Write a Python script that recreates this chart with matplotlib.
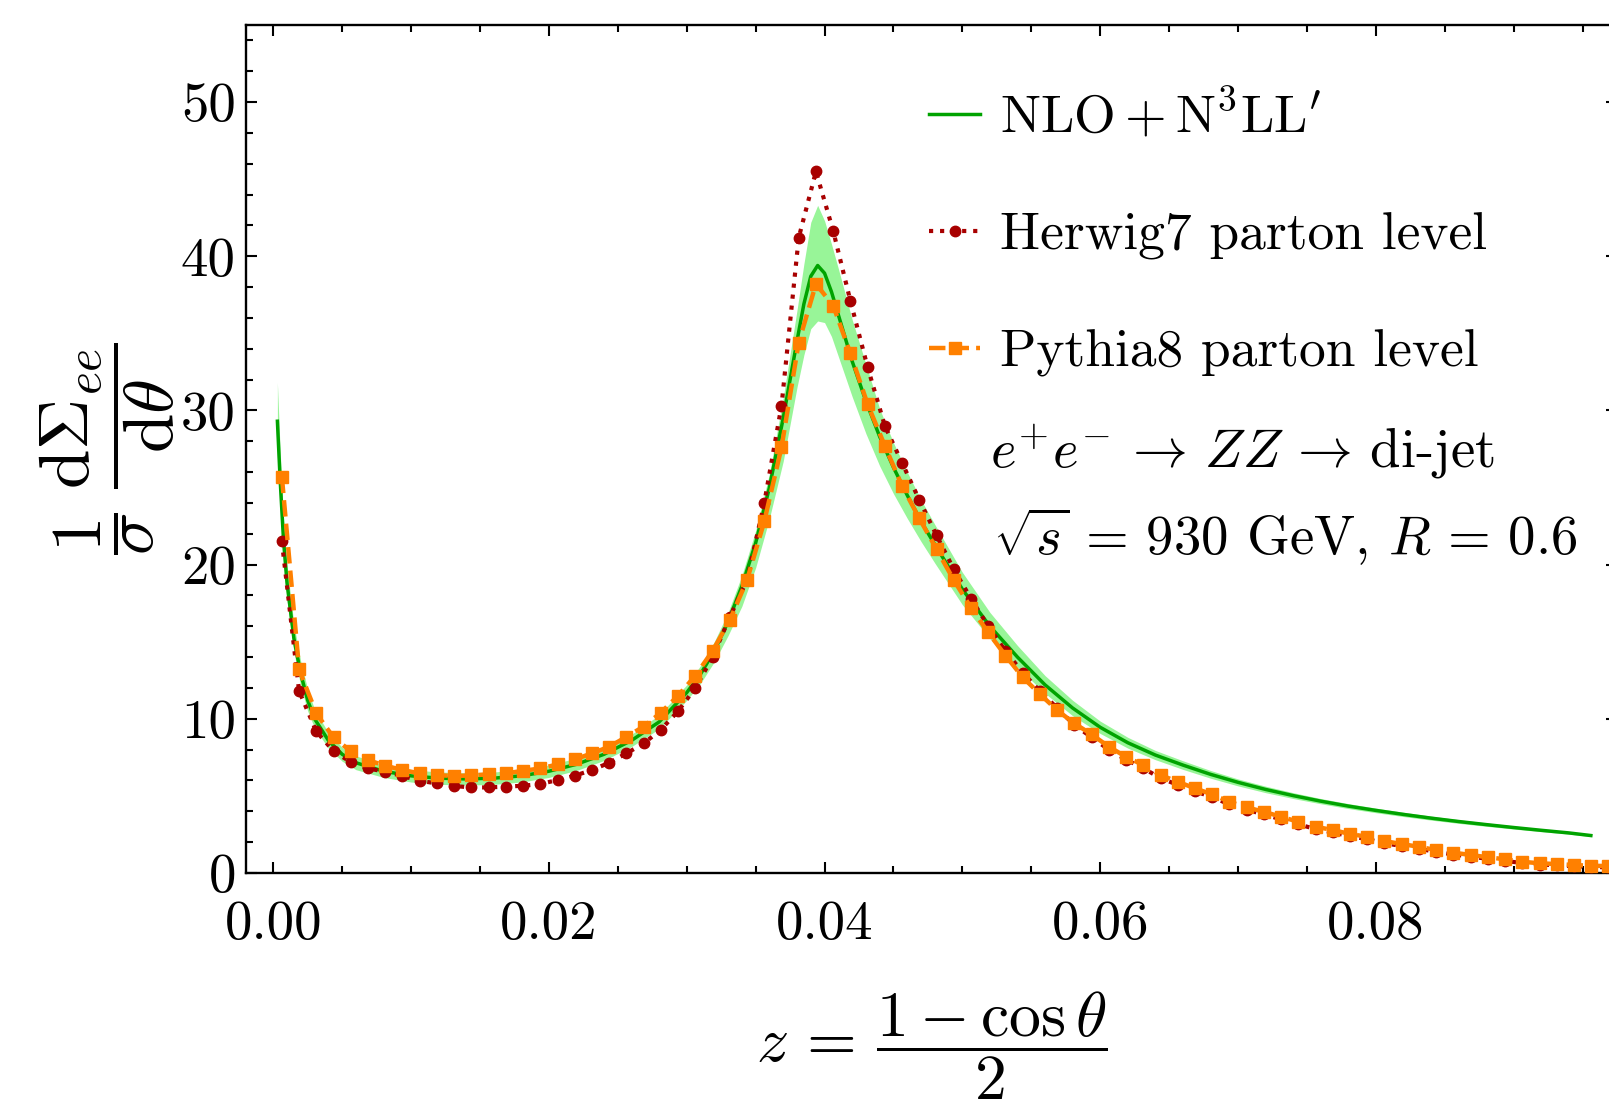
import numpy as np
import matplotlib
matplotlib.use("Agg")
import matplotlib.pyplot as plt
from matplotlib.ticker import MultipleLocator

plt.rcParams['font.family'] = 'serif'
plt.rcParams['font.serif'] = ['cmr10']
plt.rcParams['mathtext.fontset'] = 'cm'
plt.rcParams['axes.unicode_minus'] = False
plt.rcParams['axes.formatter.use_mathtext'] = True

# NLO + N3LL' resummed curve with its scale band
z_nlo = [0.0003, 0.0005, 0.00075, 0.001, 0.0015, 0.002, 0.0025, 0.003, 0.004, 0.005,
         0.006, 0.008, 0.010, 0.012, 0.014, 0.016, 0.018, 0.020, 0.022, 0.024,
         0.026, 0.028, 0.030, 0.031, 0.032, 0.033, 0.034, 0.035, 0.036, 0.037,
         0.038, 0.0385, 0.039, 0.0395, 0.040, 0.0405, 0.041, 0.042, 0.043, 0.044,
         0.045, 0.046, 0.047, 0.048, 0.050, 0.052, 0.054, 0.056, 0.058, 0.060,
         0.062, 0.064, 0.066, 0.068, 0.070, 0.072, 0.074, 0.076, 0.078, 0.080,
         0.082, 0.084, 0.086, 0.088, 0.090, 0.092, 0.094, 0.0956]
nlo = [29.3, 25.5, 21.5, 18.8, 15.2, 12.9, 11.2, 10.0, 8.6, 7.7,
       7.15, 6.6, 6.3, 6.15, 6.1, 6.15, 6.3, 6.6, 7.05, 7.7,
       8.6, 9.8, 11.7, 12.9, 14.4, 16.3, 18.6, 21.4, 25.0, 29.5,
       34.5, 36.9, 38.7, 39.4, 38.9, 37.7, 36.2, 33.2, 30.6, 28.3,
       26.3, 24.5, 22.8, 21.3, 18.4, 16.0, 14.0, 12.2, 10.7, 9.45,
       8.45, 7.65, 7.0, 6.4, 5.88, 5.42, 5.02, 4.66, 4.34, 4.06,
       3.8, 3.56, 3.34, 3.14, 2.95, 2.77, 2.6, 2.43]
nlo_lo = [27.0, 23.8, 20.2, 17.7, 14.3, 12.1, 10.5, 9.4, 8.1, 7.25,
          6.7, 6.2, 5.9, 5.75, 5.7, 5.75, 5.9, 6.2, 6.65, 7.3,
          8.2, 9.35, 11.2, 12.3, 13.7, 15.4, 17.3, 19.8, 23.0, 26.7,
          31.5, 33.6, 35.3, 35.8, 35.7, 34.8, 33.5, 30.9, 28.5, 26.4,
          24.6, 23.0, 21.5, 20.1, 17.4, 15.2, 13.35, 11.65, 10.2, 9.05,
          8.1, 7.35, 6.72, 6.15, 5.65, 5.21, 4.83, 4.49, 4.18, 3.91,
          3.66, 3.43, 3.22, 3.03, 2.85, 2.68, 2.52, 2.36]
nlo_hi = [31.8, 27.4, 22.9, 19.9, 16.1, 13.7, 11.9, 10.6, 9.1, 8.15,
          7.6, 7.0, 6.7, 6.55, 6.5, 6.55, 6.7, 7.0, 7.45, 8.1,
          9.0, 10.25, 12.2, 13.45, 15.0, 16.9, 19.3, 22.2, 25.9, 30.8,
          36.5, 39.5, 42.2, 43.3, 42.3, 40.8, 39.2, 35.9, 33.0, 30.1,
          27.9, 26.0, 24.2, 22.6, 19.5, 16.9, 14.75, 12.8, 11.2, 9.85,
          8.8, 7.95, 7.28, 6.65, 6.1, 5.63, 5.21, 4.83, 4.5, 4.21,
          3.94, 3.69, 3.46, 3.25, 3.05, 2.86, 2.68, 2.5]

# parton shower histograms, bins of width 0.00125
bin_width = 0.00125
herwig = [21.5, 11.8, 9.18, 7.9, 7.19, 6.78, 6.57, 6.29, 5.98, 5.81,
          5.64, 5.55, 5.55, 5.6, 5.66, 5.77, 6.03, 6.31, 6.68, 7.15,
          7.76, 8.4, 9.3, 10.5, 12.0, 14.0, 16.6, 19.0, 24.0, 30.3,
          41.2, 45.5, 41.65, 37.1, 32.8, 29.0, 26.6, 24.2, 21.9, 19.7,
          17.8, 16.0, 14.4, 13.0, 11.8, 10.7, 9.6, 8.8, 8.0, 7.35,
          6.8, 6.15, 5.72, 5.3, 4.92, 4.45, 4.1, 3.8, 3.48, 3.16,
          2.85, 2.63, 2.38, 2.2, 1.93, 1.75, 1.57, 1.37, 1.2, 1.06,
          0.92, 0.79, 0.64, 0.55, 0.5, 0.44, 0.39, 0.37]
pythia = [25.7, 13.2, 10.35, 8.79, 7.9, 7.32, 6.96, 6.68, 6.46, 6.35,
          6.29, 6.33, 6.4, 6.46, 6.63, 6.78, 7.04, 7.37, 7.76, 8.19,
          8.83, 9.5, 10.4, 11.5, 12.8, 14.4, 16.4, 19.0, 22.8, 27.6,
          34.4, 38.2, 36.8, 33.7, 30.4, 27.7, 25.1, 23.0, 21.0, 19.0,
          17.2, 15.6, 14.1, 12.7, 11.6, 10.56, 9.7, 8.99, 8.19, 7.54,
          7.0, 6.35, 5.92, 5.49, 5.1, 4.62, 4.26, 3.97, 3.65, 3.32,
          3.0, 2.79, 2.53, 2.35, 2.07, 1.88, 1.7, 1.49, 1.32, 1.17,
          1.02, 0.89, 0.73, 0.63, 0.58, 0.52, 0.47, 0.45]
z_mc = (np.arange(len(herwig)) + 0.5) * bin_width

fig = plt.figure(figsize=(16.09, 11.09), dpi=100)
ax = fig.add_axes([0.1527, 0.2128, 0.8523, 0.7647])

ax.fill_between(z_nlo, nlo_lo, nlo_hi, color='#98f598', lw=0, zorder=1)
ax.plot(z_nlo, nlo, color='#00a300', lw=2.5, zorder=2,
        label=r"$\mathrm{NLO} + \mathrm{N}^3\mathrm{LL}'$")
ax.plot(z_mc, herwig, color='#a80000', ls=':', lw=3, marker='o', ms=7.5,
        zorder=3, label='Herwig7 parton level')
ax.plot(z_mc, pythia, color='#ff8000', ls='--', lw=3.2, marker='s', ms=8,
        zorder=4, label='Pythia8 parton level')

ax.set_xlim(-0.002, 0.0975)
ax.set_ylim(0, 55)
ax.xaxis.set_major_locator(MultipleLocator(0.02))
ax.xaxis.set_minor_locator(MultipleLocator(0.005))
ax.yaxis.set_major_locator(MultipleLocator(10))
ax.yaxis.set_minor_locator(MultipleLocator(2))
ax.xaxis.set_major_formatter(plt.FuncFormatter(lambda v, p: '%.2f' % v))
ax.yaxis.set_major_formatter(plt.FuncFormatter(lambda v, p: '%d' % v))

ax.tick_params(which='both', direction='in', top=True, right=True, width=1.5)
ax.tick_params(which='major', length=8)
ax.tick_params(which='minor', length=5)
ax.tick_params(axis='x', which='major', labelsize=39.5, pad=20)
ax.tick_params(axis='y', which='major', labelsize=39.5, pad=7)
for s in ax.spines.values():
    s.set_linewidth(1.7)

ax.set_xlabel(r'$z\,=\,\dfrac{1-\cos\theta}{2}$', fontsize=46, labelpad=28)
ax.set_ylabel(r'$\dfrac{1}{\sigma}\;\dfrac{\mathrm{d}\Sigma_{ee}}{\mathrm{d}\theta}$',
              fontsize=51, labelpad=3)

ax.legend(loc='upper left', bbox_to_anchor=(0.5476, 0.9648),
          bbox_transform=fig.transFigure, frameon=False,
          fontsize=38.5, handlelength=0.95, handletextpad=0.37, labelspacing=1.3)

fig.text(0.615, 0.5933,
         r'$e^{+}e^{-}\,\rightarrow\,ZZ\,\rightarrow\,\mathrm{di}$-$\mathrm{jet}$',
         fontsize=39.5, va='center')
fig.text(0.617, 0.5167, r'$\sqrt{s}\,=\,930$ GeV, $R\,=\,0.6$',
         fontsize=39.5, va='center')

fig.savefig('out.png', dpi=100)
